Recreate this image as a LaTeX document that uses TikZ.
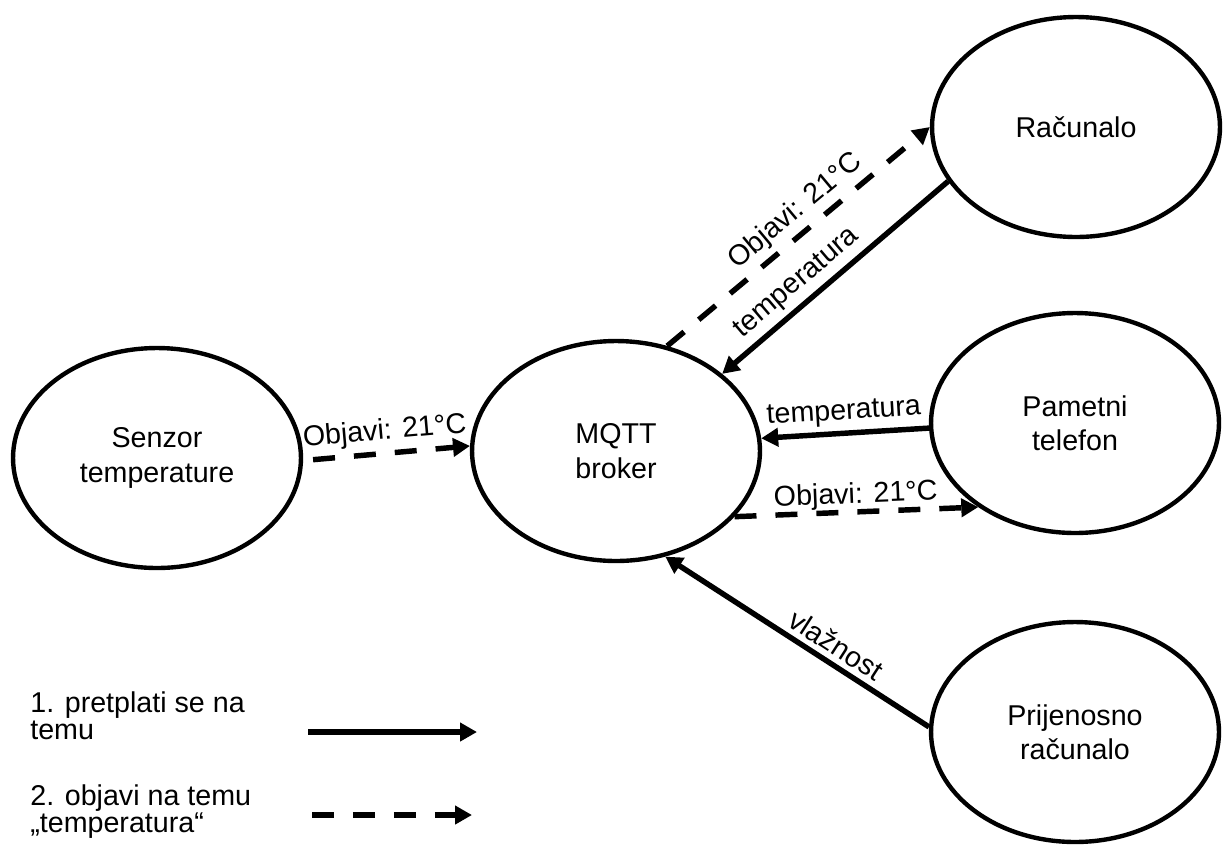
\documentclass[tikz,border=0pt]{standalone}
\usepackage{fontspec}
\setmainfont{Liberation Sans}
\usetikzlibrary{shapes.geometric,arrows.meta}

\begin{document}
\begin{tikzpicture}[x=0.02cm, y=-0.02cm,
    client/.style={draw, ellipse, line width=2.5pt, minimum width=5.76cm, minimum height=4.4cm,
        inner sep=0pt, align=center, font=\fontsize{16.3}{19.6}\selectfont},
    sub/.style={line width=3.1pt, -{Triangle[length=0.34cm, width=0.36cm]}},
    pub/.style={sub, dash pattern=on 0.44cm off 0.38cm},
    lbl/.style={font=\fontsize{16.3}{19.6}\selectfont, inner sep=3pt},
    legtext/.style={anchor=west, align=left, inner sep=0pt, font=\fontsize{16.3}{15.3}\selectfont}]
    \useasboundingbox (0,0) rectangle (1223,846);

    % Clients and broker
    \node[client] (senzor) at (157,458) {Senzor\\temperature};
    \node[client] (mqtt) at (616,451) {MQTT\\broker};
    \node[client] (racunalo) at (1076,127) {Računalo};
    \node[client] (telefon) at (1075,423) {Pametni\\telefon};
    \node[client] (prijenosno) at (1075,732) {Prijenosno\\računalo};

    % Sensor publishes to the broker
    \draw[pub, shorten <=0.2cm] (senzor.-1) -- (mqtt.178)
        node[lbl, midway, sloped, above] {Objavi: 21°C};

    % Računalo
    \draw[pub] (mqtt.64) -- (racunalo.west)
        node[lbl, pos=0.54, sloped, above] {Objavi: 21°C};
    \draw[sub] (racunalo.203) -- (mqtt.36.5)
        node[lbl, pos=0.61, sloped, above] {temperatura};

    % Pametni telefon
    \draw[sub] (telefon.182) -- (mqtt.5.4)
        node[lbl, midway, sloped, above] {temperatura};
    \draw[pub] (mqtt.-29) -- (telefon.221)
        node[lbl, midway, sloped, above=-3pt] {Objavi: 21°C};

    % Prijenosno računalo
    \draw[sub] (prijenosno.178) -- (mqtt.-65)
        node[lbl, pos=0.39, sloped, above] {vlažnost};

    % Legend
    \node[legtext] (leg1) at (30,716) {1. pretplati se na\\temu};
    \node[legtext] (leg2) at (30,812) {2. objavi na temu\\„temperatura“};
    \coordinate (s1) at (308,732);
    \coordinate (s2) at (477,732);
    \coordinate (p1) at (312,815);
    \coordinate (p2) at (472,815);
    \draw[sub] (s1) -- (s2);
    \draw[pub] (p1) -- (p2);
\end{tikzpicture}
\end{document}
